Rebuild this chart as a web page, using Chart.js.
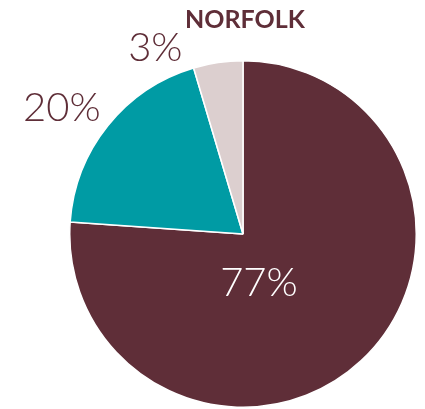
<!DOCTYPE html>
<html>
<head>
<meta charset="utf-8">
<script src="https://cdn.jsdelivr.net/npm/chart.js@4.4.0/dist/chart.umd.min.js"></script>
<style>
  html, body { margin: 0; padding: 0; background: #ffffff; }
  #wrap { width: 425px; height: 409px; position: relative; }
</style>
</head>
<body>
<div id="wrap"><canvas id="pieChart"></canvas></div>
<script>
// Veriler
const categories = ['A', 'B', 'C'];
const sliceValues = [76.1, 19.3, 4.6];
const sliceLabels = ['77%', '20%', '3%'];
const sliceColors = ['#5f2e38', '#009ba4', '#dccfcf'];
const chartTitle = 'NORFOLK';

// Dilim etiketleri: merkezden yarıçap cinsinden konum
const labelPlugin = {
  id: 'sliceLabels',
  afterDraw(chart) {
    const arc = chart.getDatasetMeta(0).data[0];
    if (!arc) return;
    const cx = arc.x, cy = arc.y, r = arc.outerRadius;
    const offsets = [[0.092, 0.285], [-1.046, -0.724], [-0.506, -1.075]];
    const colors = ['#ffffff', '#5f2e38', '#5f2e38'];
    const ctx = chart.ctx;
    ctx.save();
    ctx.textAlign = 'center';
    ctx.textBaseline = 'middle';
    ctx.font = '300 40px Lato';
    sliceLabels.forEach((txt, i) => {
      ctx.fillStyle = colors[i];
      ctx.fillText(txt, cx + offsets[i][0] * r, cy + offsets[i][1] * r);
    });
    // Başlık
    ctx.font = 'bold 25px Lato';
    ctx.fillStyle = '#5f2e38';
    ctx.fillText(chartTitle, 245, 20);
    ctx.restore();
  }
};

const ctx = document.getElementById('pieChart').getContext('2d');
new Chart(ctx, {
  type: 'pie',
  data: {
    labels: categories,
    datasets: [{
      data: sliceValues,
      backgroundColor: sliceColors,
      borderColor: '#ffffff',
      borderWidth: 1.5
    }]
  },
  options: {
    responsive: true,
    maintainAspectRatio: false,
    animation: false,
    layout: { padding: { left: 69, right: 8, top: 60, bottom: 1 } },
    plugins: {
      legend: { display: false },
      tooltip: { enabled: false }
    }
  },
  plugins: [labelPlugin]
});
</script>
</body>
</html>
